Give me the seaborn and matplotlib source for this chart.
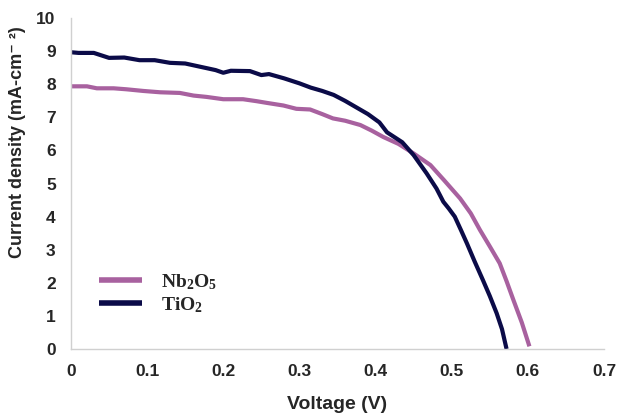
import matplotlib
matplotlib.use("Agg")
import matplotlib.pyplot as plt
import seaborn as sns
import pandas as pd
from matplotlib.ticker import MultipleLocator

# Data
tio2_v = [0, 0.01, 0.03, 0.05, 0.07, 0.09, 0.11, 0.13, 0.15, 0.17, 0.19, 0.20, 0.21,
          0.235, 0.25, 0.26, 0.28, 0.30, 0.315, 0.33, 0.345, 0.36, 0.375, 0.39, 0.405,
          0.415, 0.425, 0.435, 0.45, 0.467, 0.48, 0.489, 0.496, 0.504, 0.512, 0.520,
          0.530, 0.541, 0.550, 0.559, 0.566, 0.572]
tio2_j = [8.97, 8.95, 8.95, 8.8, 8.81, 8.73, 8.73, 8.65, 8.63, 8.53, 8.43, 8.35, 8.41,
          8.4, 8.28, 8.31, 8.18, 8.03, 7.9, 7.8, 7.68, 7.5, 7.3, 7.1, 6.85,
          6.55, 6.4, 6.25, 5.86, 5.31, 4.85, 4.45, 4.25, 4.0, 3.6, 3.19,
          2.65, 2.08, 1.6, 1.08, 0.6, 0.0]
nb_v = [0, 0.021, 0.034, 0.056, 0.073, 0.095, 0.117, 0.143, 0.161, 0.178, 0.2, 0.226,
        0.244, 0.257, 0.279, 0.296, 0.314, 0.33, 0.344, 0.36, 0.38, 0.395, 0.41, 0.43,
        0.45, 0.472, 0.49, 0.511, 0.525, 0.537, 0.55, 0.563, 0.572, 0.581, 0.592, 0.602]
nb_j = [7.94, 7.94, 7.88, 7.88, 7.85, 7.8, 7.76, 7.74, 7.66, 7.62, 7.55, 7.55,
        7.49, 7.44, 7.36, 7.26, 7.24, 7.1, 6.97, 6.9, 6.77, 6.6, 6.41, 6.2,
        5.91, 5.56, 5.1, 4.55, 4.1, 3.6, 3.1, 2.59, 2.05, 1.48, 0.8, 0.08]
x_ticks = [0, 0.1, 0.2, 0.3, 0.4, 0.5, 0.6, 0.7]
x_tick_labels = ["0", "0.1", "0.2", "0.3", "0.4", "0.5", "0.6", "0.7"]
y_ticks = list(range(0, 11))

sns.set_style("white")
plt.rcParams["font.family"] = ["Liberation Sans", "DejaVu Sans"]
plt.rcParams["mathtext.fontset"] = "custom"
plt.rcParams["mathtext.rm"] = "Liberation Serif:bold"
plt.rcParams["mathtext.bf"] = "Liberation Serif:bold"
plt.rcParams["mathtext.it"] = "Liberation Serif:bold"

fig = plt.figure(figsize=(6.17, 4.13), dpi=100)
ax = fig.add_axes([0.115, 0.155, 0.864, 0.801])

df = pd.concat([
    pd.DataFrame({"V": nb_v, "J": nb_j, "s": r"$\mathrm{Nb_2O_5}$"}),
    pd.DataFrame({"V": tio2_v, "J": tio2_j, "s": r"$\mathrm{TiO_2}$"}),
])
palette = {r"$\mathrm{Nb_2O_5}$": "#a8619f", r"$\mathrm{TiO_2}$": "#0b0b48"}
sns.lineplot(data=df, x="V", y="J", hue="s", palette=palette, linewidth=3.0,
             ax=ax, sort=False, estimator=None)
for ln in ax.get_lines():
    ln.set_solid_capstyle("butt")

ax.set_xlim(0, 0.7)
ax.set_ylim(0, 10)
ax.set_xticks(x_ticks)
ax.set_xticklabels(x_tick_labels)
ax.set_yticks(y_ticks)
ax.xaxis.set_minor_locator(MultipleLocator(0.02))
ax.yaxis.set_minor_locator(MultipleLocator(0.5))
for sp in ["top", "right"]:
    ax.spines[sp].set_visible(False)
for sp in ["left", "bottom"]:
    ax.spines[sp].set_color("#d0d0d0")
    ax.spines[sp].set_linewidth(1.0)
ax.tick_params(axis="both", which="both", direction="out", color="#c8c8c8",
               length=4, width=0.8)
ax.tick_params(axis="x", which="major", labelsize=12.5, pad=7)
ax.tick_params(axis="y", which="major", labelsize=12.5, pad=7)
for lab in ax.get_xticklabels() + ax.get_yticklabels():
    lab.set_fontweight("bold")

ax.set_xlabel("Voltage (V)", fontsize=14, fontweight="bold", labelpad=12)
ax.set_ylabel("Current density (mA-cm\u207b \u00b2)", fontsize=13, fontweight="bold")
ax.yaxis.set_label_coords(-0.084, 0.625)

leg = ax.legend(loc="upper left", bbox_to_anchor=(0.02, 0.285), frameon=False,
                fontsize=14, handlelength=2.2, handletextpad=1.0, labelspacing=0.15,
                title=None)
for h in leg.get_lines():
    h.set_linewidth(4)

fig.savefig("out.png", dpi=100, facecolor="white")
